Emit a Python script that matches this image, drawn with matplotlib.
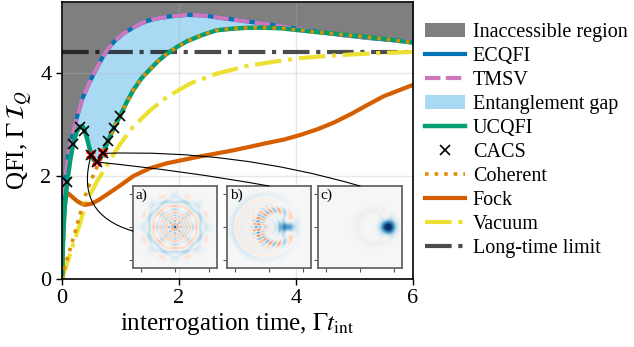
import matplotlib
matplotlib.use('Agg')
import matplotlib.pyplot as plt
from matplotlib.patches import ConnectionPatch
import numpy as np

plt.rcParams['font.family'] = 'serif'
plt.rcParams['font.serif'] = ['Liberation Serif', 'DejaVu Serif']
plt.rcParams['mathtext.fontset'] = 'stix'

# curves
t_ec = [0, 0.005, 0.015, 0.03, 0.05, 0.08, 0.12, 0.19, 0.27, 0.34, 0.44, 0.54, 0.65, 0.77, 0.9,
        1.05, 1.2, 1.34, 1.48, 1.62, 1.85, 2.14, 2.4, 2.6, 3.05, 3.62, 4.2, 4.77, 5.34, 6.0]
ecqfi = [0, 0.55, 1.05, 1.5, 1.9, 2.2, 2.5, 2.85, 3.2, 3.48, 3.75, 3.98, 4.22, 4.45, 4.62,
         4.77, 4.87, 4.96, 5.02, 5.06, 5.1, 5.13, 5.12, 5.09, 5.02, 4.93, 4.83, 4.74, 4.67, 4.61]
tmsv = list(ecqfi)

t_uc = [0, 0.01, 0.025, 0.05, 0.09, 0.14, 0.19, 0.25, 0.31, 0.35, 0.38, 0.43, 0.5, 0.55, 0.6,
        0.65, 0.7, 0.79, 0.89, 0.99, 1.1, 1.22, 1.36, 1.51, 1.65, 1.8, 1.97, 2.14, 2.4, 2.64,
        2.9, 3.17, 3.45, 3.74, 4.31, 4.88, 5.45, 6.0]
ucqfi = [0, 0.45, 0.95, 1.45, 1.88, 2.3, 2.62, 2.86, 2.96, 2.97, 2.91, 2.72, 2.41, 2.3, 2.27,
         2.33, 2.44, 2.69, 2.94, 3.16, 3.42, 3.67, 3.9, 4.08, 4.24, 4.38, 4.51, 4.62, 4.74, 4.83,
         4.86, 4.88, 4.88, 4.87, 4.8, 4.74, 4.67, 4.59]

t_coh = [0, 0.05, 0.13, 0.22, 0.32, 0.42, 0.5, 0.57, 0.63] + t_uc[16:]
coherent = [0, 0.25, 0.55, 0.9, 1.3, 1.7, 1.92, 2.1, 2.27] + ucqfi[16:]

t_fock = [0, 0.01, 0.025, 0.045, 0.07, 0.11, 0.17, 0.25, 0.32, 0.39, 0.5, 0.62, 0.74, 0.91,
          1.05, 1.22, 1.5, 1.8, 2.1, 2.36, 2.65, 2.93, 3.22, 3.5, 3.8, 4.08, 4.37, 4.65, 4.95,
          5.22, 5.5, 5.75, 6.0]
fock = [0, 0.45, 1.0, 1.4, 1.6, 1.66, 1.6, 1.52, 1.47, 1.44, 1.46, 1.53, 1.62, 1.75,
        1.86, 2.0, 2.15, 2.25, 2.32, 2.38, 2.44, 2.5, 2.57, 2.64, 2.71, 2.8, 2.91, 3.04, 3.21,
        3.38, 3.55, 3.66, 3.77]

t_vac = [0, 0.1, 0.2, 0.3, 0.42, 0.52, 0.6, 0.71, 0.8, 0.88, 1.0, 1.22, 1.51, 1.8, 2.2, 2.65,
         3.17, 3.62, 4.08, 4.5, 4.94, 5.45, 6.0]
vacuum = [0, 0.35, 0.7, 1.05, 1.5, 1.72, 1.9, 2.1, 2.27, 2.42, 2.63, 2.96, 3.28, 3.54, 3.8, 3.99,
          4.14, 4.22, 4.29, 4.33, 4.36, 4.39, 4.41]

long_time = 4.41

t_cacs = [0.09, 0.19, 0.31, 0.38, 0.5, 0.6, 0.7, 0.79, 0.89, 0.99]
q_cacs = [1.88, 2.62, 2.95, 2.88, 2.41, 2.27, 2.44, 2.69, 2.94, 3.16]
red_idx = [4, 5, 6]

# inset states: superpositions of coherent states (amplitudes, weights)
ring8 = np.exp(1j * np.arange(8) * 2 * np.pi / 8)
ring12 = np.exp(1j * np.arange(12) * 2 * np.pi / 12)
inset_labels = ['a)', 'b)', 'c)']
inset_alphas = [list(3.1 * ring8),
                list(-0.6 + 3.0 * ring12) + [1.6],
                list(2.8 * ring12)]
inset_weights = [[1.0] * 8,
                 [0.3] * 12 + [1.0],
                 [1.0] + [0.05] * 11]

YMAX = 5.38
colors = {'ec': '#0173b2', 'tmsv': '#cc78bc', 'gap': '#56b4e9', 'uc': '#029e73',
          'coh': '#de8f05', 'fock': '#d55e00', 'vac': '#ece133'}


def wigner(alphas, weights, B):
    W = np.zeros(B.shape, dtype=complex)
    norm = 0
    for aj, cj in zip(alphas, weights):
        for ak, ck in zip(alphas, weights):
            ov = np.exp(-abs(aj)**2 / 2 - abs(ak)**2 / 2 + np.conj(ak) * aj)
            W += cj * ck * ov * np.exp(-2 * (B - aj) * (np.conj(B) - np.conj(ak)))
            norm += cj * ck * ov
    return (2 / np.pi) * W.real / norm.real


fig = plt.figure(figsize=(6.34, 3.47), dpi=100)
ax = fig.add_axes([62 / 634, 68 / 347, 351 / 634, 277 / 347])

h_gray = ax.fill_between(t_ec, ecqfi, YMAX, color='k', alpha=0.5, lw=0, label='Inaccessible region')
h_gap = ax.fill(np.r_[t_ec, t_uc[::-1]], np.r_[ecqfi, ucqfi[::-1]], color=colors['gap'],
                alpha=0.5, lw=0, label='Entanglement gap')[0]
h_long = ax.axhline(long_time, color='k', alpha=0.7, lw=3, ls='-.', zorder=1.8, label='Long-time limit')
h_vac, = ax.plot(t_vac, vacuum, color=colors['vac'], lw=3, ls='-.', label='Vacuum')
h_fock, = ax.plot(t_fock, fock, color=colors['fock'], lw=3, label='Fock')
h_ec, = ax.plot(t_ec, ecqfi, color=colors['ec'], lw=3, label='ECQFI')
h_tmsv, = ax.plot(t_ec, tmsv, color=colors['tmsv'], lw=3, ls=(0, (3.7, 1.3)), label='TMSV')
h_uc, = ax.plot(t_uc, ucqfi, color=colors['uc'], lw=3.2, label='UCQFI')
h_coh, = ax.plot(t_coh, coherent, color=colors['coh'], lw=2.6, ls=':', label='Coherent')
ax.plot([t_cacs[i] for i in red_idx], [q_cacs[i] for i in red_idx], ls='none', marker='X',
        ms=7, color='red', mew=0, zorder=4)
h_cacs, = ax.plot(t_cacs, q_cacs, ls='none', marker='x', ms=7, mew=1.2, color='k', zorder=5,
                  label='CACS')

ax.set_xlim(0, 6)
ax.set_ylim(0, YMAX)
ax.set_xticks([0, 2, 4, 6])
ax.set_yticks([0, 2, 4])
ax.grid(True, color='#b0b0b0', alpha=0.3, lw=1)
ax.tick_params(labelsize=16, length=4, width=1)
for s in ax.spines.values():
    s.set_linewidth(1.2)
ax.set_xlabel(r'interrogation time, $\Gamma t_{\rm int}$', fontsize=18, labelpad=2)
ax.set_ylabel(r'QFI, $\Gamma\,\mathcal{I}_Q$', fontsize=18, labelpad=4)

handles = [h_gray, h_ec, h_tmsv, h_gap, h_uc, h_cacs, h_coh, h_fock, h_vac, h_long]
ax.legend(handles=handles, loc='center left', bbox_to_anchor=(1.01, 0.5), frameon=False,
          fontsize=14.5, labelspacing=0.24, handlelength=2.0, handletextpad=0.4,
          borderaxespad=0.0)

# insets with Wigner functions
g = np.linspace(-4.2, 4.2, 170)
X, Y = np.meshgrid(g, g)
B = X + 1j * Y
lefts = [133, 227, 318]
insets = []
for k in range(3):
    iax = fig.add_axes([lefts[k] / 634, (347 - 268) / 347, 84 / 634, 82 / 347])
    W = wigner(inset_alphas[k], inset_weights[k], B)
    iax.imshow(W, origin='lower', extent=[-4.2, 4.2, -4.2, 4.2], cmap='RdBu',
               vmin=-0.55, vmax=0.55, aspect='auto', interpolation='bilinear')
    iax.set_xticks([-3.4, 0, 3.4])
    iax.set_yticks([-3.4, 0, 3.4])
    iax.set_xticklabels([])
    iax.set_yticklabels([])
    iax.tick_params(length=3, width=0.8, color='#555555')
    for s in iax.spines.values():
        s.set_color('#666666')
        s.set_linewidth(1.3)
    iax.text(0.03, 0.97, inset_labels[k], transform=iax.transAxes, fontsize=11,
             va='top', ha='left')
    insets.append(iax)

# connectors from the highlighted CACS points to the insets
targets = [(0.0, 0.45), (0.5, 1.0), (0.5, 1.0)]
rads = [0.5, -0.02, -0.08]
for j, i in enumerate(red_idx):
    con = ConnectionPatch(xyA=(t_cacs[i], q_cacs[i]), coordsA=ax.transData,
                          xyB=targets[j], coordsB=insets[j].transAxes,
                          connectionstyle='arc3,rad=%g' % rads[j], color='k', lw=0.8)
    fig.add_artist(con)

fig.savefig('out.png', dpi=100)
